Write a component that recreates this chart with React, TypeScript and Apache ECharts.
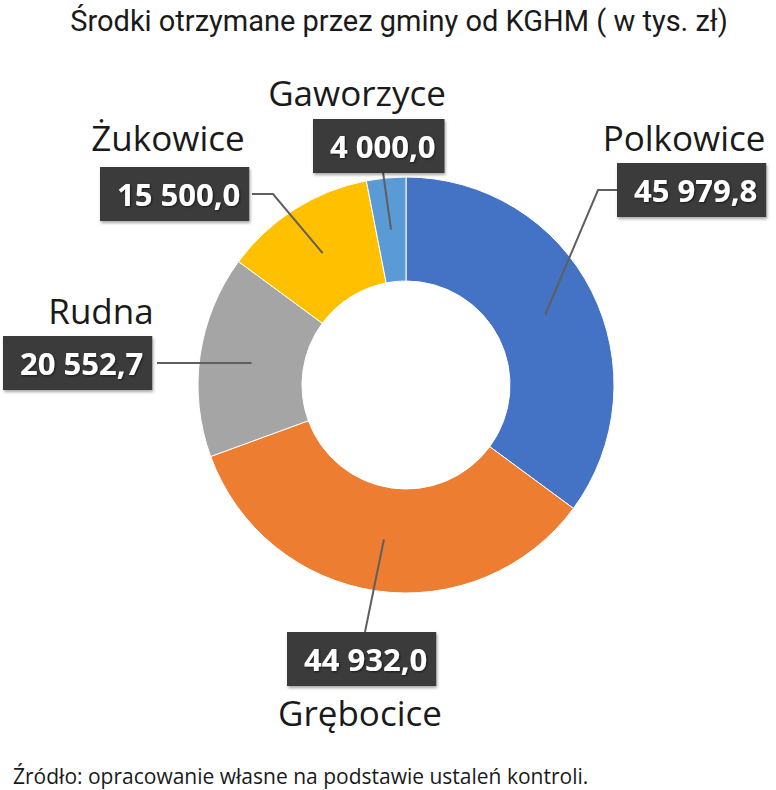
import React, { useEffect, useRef } from 'react';
import * as echarts from 'echarts';

// dane z wykresu (tys. zł)
const gminy = ['Polkowice', 'Grębocice', 'Rudna', 'Żukowice', 'Gaworzyce'];
const kwoty = [45979.8, 44932.0, 20552.7, 15500.0, 4000.0];
const kolory = ['#4472C4', '#ED7D31', '#A5A5A5', '#FFC000', '#5B9BD5'];

const TITLE = 'Środki otrzymane przez gminy od KGHM ( w tys. zł)';
const SOURCE = 'Źródło: opracowanie własne na podstawie ustaleń kontroli.';

// geometria pierścienia
const CX = 406;
const CY = 385;
const R0 = 104;
const R1 = 208;

// pozycje etykiet (lewy górny róg ramki z wartością)
const boxPos = [[617, 163], [287, 632], [3, 336], [100, 167], [313, 119]];
// załamania linii odniesienia
const lineBends = [
  [[598, 190], [617, 190]],
  [[365, 632]],
  [[157, 363]],
  [[273, 194], [252, 194]],
  [[383, 172]]
];
// środki podpisów z nazwami gmin
const namePos = [[684, 137], [360, 712], [101, 310], [168, 137], [357, 92]];

const formatPL = (v: number) => {
  const [int, dec] = v.toFixed(1).split('.');
  return int.replace(/\B(?=(\d{3})+(?!\d))/g, ' ') + ',' + dec;
};

const total = kwoty.reduce((a, b) => a + b, 0);
const midPoint = (i: number) => {
  const before = kwoty.slice(0, i).reduce((a, b) => a + b, 0);
  const ang = ((before + kwoty[i] / 2) / total) * Math.PI * 2;
  const rm = (R0 + R1) / 2;
  return [CX + rm * Math.sin(ang), CY - rm * Math.cos(ang)];
};

const App: React.FC = () => {
  const chartRef = useRef<HTMLDivElement>(null);

  useEffect(() => {
    if (!chartRef.current) return;
    const chart = echarts.init(chartRef.current, undefined, { renderer: 'svg' });

    const common = {
      type: 'pie' as const,
      center: [CX, CY],
      radius: [R0, R1],
      startAngle: 90,
      clockwise: true,
      avoidLabelOverlap: false,
      silent: true
    };

    const option: echarts.EChartsOption = {
      animation: false,
      backgroundColor: '#ffffff',
      title: [
        {
          text: TITLE,
          left: 394,
          textAlign: 'center',
          top: 1,
          textStyle: {
            fontFamily: 'Roboto, sans-serif',
            fontSize: 29,
            fontWeight: 'normal',
            color: '#1a1a1a'
          }
        },
        {
          text: SOURCE,
          left: 8,
          top: 760,
          textStyle: {
            fontFamily: '"Open Sans", sans-serif',
            fontSize: 21,
            fontWeight: 'normal',
            color: '#1a1a1a'
          }
        }
      ],
      series: [
        // wycinki + nazwy gmin
        {
          ...common,
          z: 2,
          itemStyle: { borderColor: '#ffffff', borderWidth: 1 },
          label: {
            show: true,
            position: 'outside',
            formatter: '{b}',
            fontFamily: '"Open Sans", sans-serif',
            fontSize: 35,
            color: '#1a1a1a'
          },
          labelLine: { show: false },
          labelLayout: (params: any) => {
            const i = params.dataIndex;
            return {
              x: namePos[i][0],
              y: namePos[i][1],
              align: 'center',
              verticalAlign: 'middle'
            };
          },
          data: gminy.map((name, i) => ({
            name,
            value: kwoty[i],
            itemStyle: { color: kolory[i] }
          }))
        },
        // wartości w ciemnych ramkach + linie odniesienia (nad wycinkami)
        {
          ...common,
          z: 5,
          itemStyle: { color: 'rgba(0,0,0,0)' },
          label: {
            show: true,
            position: 'outside',
            formatter: (p: any) => formatPL(p.value),
            fontFamily: '"Open Sans", sans-serif',
            fontWeight: 'bold',
            fontSize: 31,
            lineHeight: 36,
            color: '#ffffff',
            textShadowColor: 'rgba(0,0,0,0.6)',
            textShadowBlur: 2,
            textShadowOffsetX: 1,
            textShadowOffsetY: 1,
            backgroundColor: '#3b3b3b',
            padding: [9, 9, 9, 17],
            shadowColor: 'rgba(0,0,0,0.35)',
            shadowBlur: 3,
            shadowOffsetX: 1,
            shadowOffsetY: 2
          },
          labelLine: {
            show: true,
            lineStyle: { color: '#5f5f5f', width: 2 }
          },
          labelLayout: (params: any) => {
            const i = params.dataIndex;
            return {
              x: boxPos[i][0],
              y: boxPos[i][1],
              align: 'left',
              verticalAlign: 'top',
              labelLinePoints: [midPoint(i), ...lineBends[i]]
            };
          },
          data: gminy.map((name, i) => ({ name, value: kwoty[i] }))
        }
      ]
    };

    chart.setOption(option);

    return () => {
      chart.dispose();
    };
  }, []);

  return (
    <div
      ref={chartRef}
      style={{ position: 'fixed', left: 0, top: 0, width: '776px', height: '790px' }}
    />
  );
};

export default App;
